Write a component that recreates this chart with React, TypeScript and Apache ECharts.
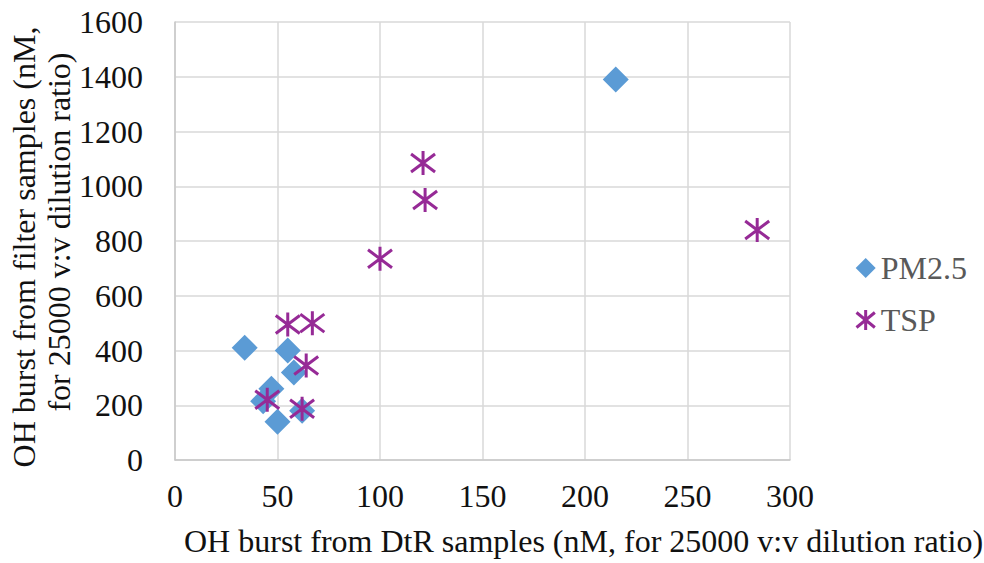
import React, { useEffect, useRef } from "react";
import * as echarts from "echarts";

const pm25X = [215, 34, 55, 58, 47, 43, 50, 62];
const pm25Y = [1390, 410, 400, 320, 260, 215, 140, 180];
const tspX = [284, 100, 121, 122, 55, 67, 64, 45, 62];
const tspY = [840, 735, 1085, 950, 495, 500, 345, 220, 187];

const seriesNames = ["PM2.5", "TSP"];
const xTitle = "OH burst from DtR samples (nM, for 25000 v:v dilution ratio)";
const yTitleLines = ["OH burst from filter samples (nM,", "for 25000 v:v dilution ratio)"];

const FONT = "Liberation Serif";
const FS = 32;
const BLUE = "#5b9bd5";
const PURPLE = "#962a96";
const DIAMOND = "path://M0,-10 L10,0 L0,10 L-10,0 Z";
const STAR = "path://M0,-12 L0,12 M-11,-9 L11,9 M-11,9 L11,-9";

export default function App() {
  const ref = useRef<HTMLDivElement>(null);
  useEffect(() => {
    if (!ref.current) return;
    const chart = echarts.init(ref.current, undefined, { renderer: "svg" });
    chart.setOption({
      animation: false,
      backgroundColor: "#ffffff",
      textStyle: { fontFamily: FONT },
      grid: { left: 175, right: 194, top: 22, bottom: 103 },
      xAxis: {
        type: "value",
        min: 0,
        max: 300,
        interval: 50,
        axisLine: { show: true, lineStyle: { color: "#c8c8c8", width: 1.5 } },
        axisTick: { show: false },
        splitLine: { show: true, lineStyle: { color: "#d9d9d9", width: 1.5 } },
        axisLabel: {
          margin: 20,
          fontSize: FS,
          fontFamily: FONT,
          color: "#111",
          formatter: (v: number) => String(v),
        },
      },
      yAxis: {
        type: "value",
        min: 0,
        max: 1600,
        interval: 200,
        axisLine: { show: true, lineStyle: { color: "#c8c8c8", width: 1.5 } },
        axisTick: { show: false },
        splitLine: { show: true, lineStyle: { color: "#d9d9d9", width: 1.5 } },
        axisLabel: {
          margin: 32,
          fontSize: FS,
          fontFamily: FONT,
          color: "#111",
          formatter: (v: number) => String(v),
        },
      },
      legend: {
        orient: "vertical",
        left: 850,
        top: 247,
        itemWidth: 20,
        itemHeight: 20,
        itemGap: 20,
        textStyle: { fontSize: FS, fontFamily: FONT, color: "#595959" },
        data: [
          { name: seriesNames[0], icon: DIAMOND, itemStyle: { color: BLUE, borderWidth: 0 } },
          {
            name: seriesNames[1],
            icon: STAR,
            itemStyle: { color: "rgba(0,0,0,0)", borderColor: PURPLE, borderWidth: 3 },
          },
        ],
      },
      graphic: [
        {
          type: "text",
          x: 184,
          y: 541,
          style: {
            text: xTitle,
            fontSize: FS,
            fontFamily: FONT,
            fill: "#111",
            align: "left",
            verticalAlign: "middle",
          },
        },
        {
          type: "text",
          x: 24,
          y: 247,
          rotation: Math.PI / 2,
          style: {
            text: yTitleLines[0],
            fontSize: FS,
            fontFamily: FONT,
            fill: "#111",
            align: "center",
            verticalAlign: "middle",
          },
        },
        {
          type: "text",
          x: 59,
          y: 232,
          rotation: Math.PI / 2,
          style: {
            text: yTitleLines[1],
            fontSize: FS,
            fontFamily: FONT,
            fill: "#111",
            align: "center",
            verticalAlign: "middle",
          },
        },
      ],
      series: [
        {
          name: seriesNames[0],
          type: "scatter",
          symbol: DIAMOND,
          symbolSize: 26,
          itemStyle: { color: BLUE, opacity: 1 },
          data: pm25X.map((x, i) => [x, pm25Y[i]]),
          z: 2,
        },
        {
          name: seriesNames[1],
          type: "scatter",
          symbol: STAR,
          symbolSize: [24, 24],
          itemStyle: { color: "rgba(0,0,0,0)", borderColor: PURPLE, borderWidth: 3, opacity: 1 },
          data: tspX.map((x, i) => [x, tspY[i]]),
          z: 3,
        },
      ],
    });
    return () => chart.dispose();
  }, []);
  return (
    <div
      ref={ref}
      style={{ position: "fixed", left: 0, top: 0, width: 984, height: 563 }}
    />
  );
}
